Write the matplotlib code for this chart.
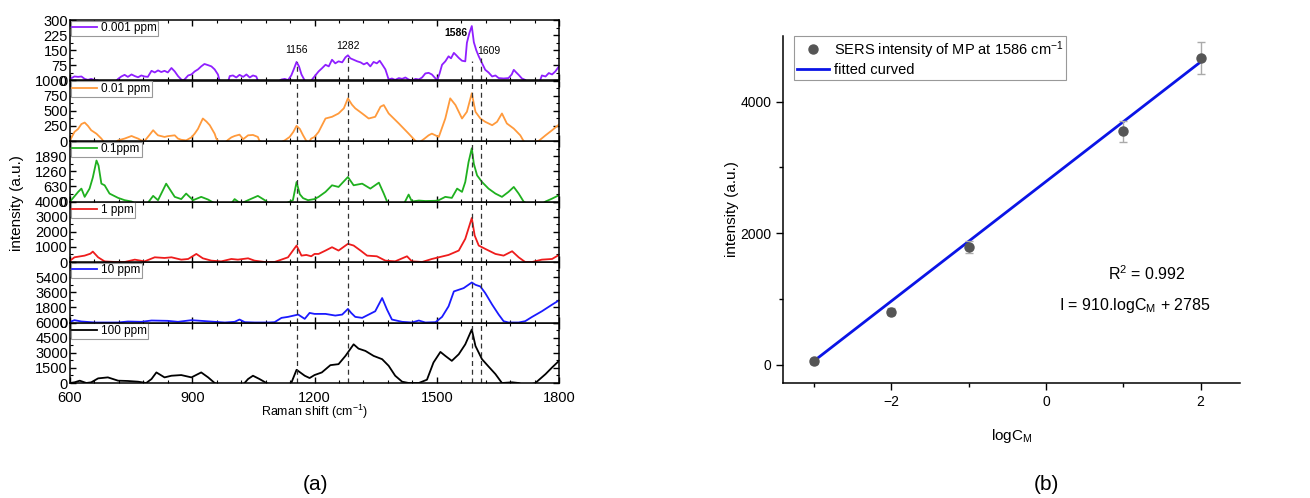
import matplotlib
matplotlib.use("Agg")
import matplotlib.pyplot as plt
from matplotlib.ticker import MultipleLocator, FixedLocator

plt.rcParams['font.family'] = ['Liberation Sans', 'DejaVu Sans']
plt.rcParams['mathtext.fontset'] = 'custom'
plt.rcParams['mathtext.rm'] = 'Liberation Sans'
plt.rcParams['mathtext.it'] = 'Liberation Sans:italic'

# ---- SERS spectra (Raman shift in cm-1, intensity in a.u.) ----
x_0001 = [600, 611, 620, 628, 636, 644, 652, 661, 669, 677, 700, 718, 726, 734, 742, 751, 759, 767,
          775, 783, 791, 800, 808, 816, 824, 832, 840, 849, 857, 865, 873, 877, 881, 890, 898, 906,
          914, 922, 930, 939, 947, 955, 963, 967, 975, 988, 992, 1000, 1008, 1016, 1025, 1033, 1041,
          1049, 1057, 1061, 1070, 1100, 1115, 1119, 1127, 1135, 1143, 1150, 1156, 1162, 1168, 1176,
          1184, 1194, 1200, 1210, 1218, 1227, 1235, 1243, 1251, 1259, 1268, 1276, 1282, 1288, 1296,
          1305, 1313, 1321, 1329, 1337, 1345, 1353, 1360, 1366, 1374, 1378, 1382, 1390, 1398, 1407,
          1415, 1423, 1431, 1439, 1448, 1456, 1464, 1472, 1480, 1488, 1497, 1501, 1507, 1513, 1521,
          1529, 1535, 1542, 1548, 1554, 1562, 1570, 1574, 1580, 1586, 1591, 1597, 1603, 1611, 1619,
          1627, 1636, 1644, 1652, 1664, 1676, 1684, 1689, 1695, 1701, 1709, 1717, 1726, 1750, 1758,
          1767, 1775, 1783, 1791, 1800]
y_0001 = [8, 20, 18, 20, 8, 3, 8, 2, 0, -20, -30, 8, 20, 28, 18, 30, 22, 16,
          25, 20, 18, 48, 40, 50, 42, 48, 40, 62, 45, 22, 5, 0, 5, 25, 30, 45,
          55, 70, 82, 76, 70, 55, 30, 0, -20, -5, 22, 25, 15, 28, 18, 30, 15,
          25, 20, 0, -25, -25, 0, 5, 8, 2, 25, 60, 92, 70, 30, 0,
          -20, 5, 20, 45, 60, 78, 70, 103, 85, 95, 90, 115, 125, 110, 103,
          95, 90, 80, 88, 70, 92, 85, 98, 80, 55, 30, 5, 10, 3, 12,
          8, 15, 5, 0, 8, 5, 15, 35, 38, 30, 10, 0, 35, 78, 95,
          120, 110, 137, 125, 112, 98, 95, 187, 235, 270, 190, 150, 120, 87, 53,
          40, 20, 25, 12, 10, 12, 30, 53, 40, 28, 10, 3, -20, -20, 25,
          20, 37, 30, 45, 70]

x_001 = [600, 611, 620, 628, 636, 644, 652, 665, 677, 685, 710, 718, 734, 751, 759, 767, 775, 783,
         795, 804, 812, 816, 832, 840, 857, 865, 873, 885, 898, 906, 914, 926, 935, 943, 955, 959,
         967, 980, 988, 996, 1004, 1016, 1025, 1037, 1049, 1061, 1065, 1075, 1115, 1127, 1139, 1148,
         1156, 1164, 1172, 1180, 1186, 1192, 1200, 1210, 1227, 1243, 1259, 1272, 1282, 1292, 1300,
         1317, 1333, 1349, 1362, 1370, 1382, 1407, 1431, 1448, 1456, 1470, 1480, 1488, 1505, 1521,
         1533, 1546, 1562, 1574, 1586, 1595, 1607, 1619, 1636, 1648, 1660, 1672, 1689, 1705, 1713,
         1720, 1750, 1767, 1783, 1800]
y_001 = [10, 150, 200, 280, 305, 250, 178, 120, 40, -30, -30, 10, 40, 83, 60, 40, 10, 0,
         100, 178, 120, 94, 67, 80, 94, 40, 20, 10, 60, 122, 200, 372, 320, 261, 120, 40,
         -30, -30, 20, 60, 83, 105, 30, 94, 100, 67, 0, -30, -30, 10, 67, 150,
         250, 200, 94, 0, -20, 40, 67, 150, 372, 400, 455, 540, 705, 600, 540,
         455, 372, 400, 567, 594, 455, 289, 122, 0, -30, 40, 94, 122, 67, 372,
         705, 594, 372, 483, 789, 483, 372, 317, 261, 317, 455, 290, 205, 94, 0,
         -30, 0, 94, 178, 272]

x_01 = [603, 620, 628, 636, 648, 656, 665, 670, 677, 685, 697, 718, 734, 751, 760, 790, 804, 816,
        836, 857, 873, 885, 902, 922, 939, 947, 955, 996, 1004, 1012, 1020, 1037, 1061, 1078, 1086,
        1130, 1147, 1156, 1164, 1172, 1184, 1200, 1210, 1227, 1243, 1259, 1282, 1296, 1317, 1337,
        1358, 1370, 1378, 1385, 1420, 1431, 1439, 1456, 1472, 1497, 1505, 1521, 1537, 1550, 1562,
        1570, 1578, 1586, 1591, 1599, 1611, 1627, 1644, 1660, 1676, 1689, 1701, 1713, 1720, 1760,
        1767, 1783, 1800]
y_01 = [55, 400, 537, 193, 537, 1000, 1707, 1500, 743, 675, 330, 151, 55, 0, -80, -80, 234, 55,
        743, 193, 100, 330, 55, 193, 80, 0, -80, -80, 100, 0, -80, 55, 234, 55, -50,
        -80, 55, 813, 300, 140, 55, 100, 193, 400, 675, 606, 1019, 675, 743, 537,
        785, 330, 0, -80, -80, 289, 0, 40, 20, 30, 55, 193, 150, 537, 400,
        813, 1639, 2217, 1570, 1088, 813, 537, 330, 193, 400, 606, 330, 0, -80, -80,
        0, 120, 262]

x_1 = [600, 611, 636, 650, 656, 669, 685, 710, 734, 759, 783, 808, 832, 849, 873, 890, 910, 926,
       947, 971, 996, 1012, 1037, 1053, 1078, 1102, 1135, 1156, 1168, 1180, 1192, 1200, 1210, 1227,
       1243, 1259, 1282, 1296, 1313, 1329, 1353, 1374, 1398, 1427, 1439, 1464, 1488, 1505, 1529,
       1554, 1570, 1586, 1593, 1603, 1619, 1644, 1664, 1685, 1701, 1717, 1734, 1758, 1783, 1800]
y_1 = [89, 311, 422, 550, 689, 311, 40, 0, 0, 156, 40, 311, 267, 311, 156, 200, 533, 244,
       89, 40, 200, 156, 244, 89, 0, 0, 311, 1089, 422, 467, 378, 533, 533, 756,
       978, 756, 1200, 1089, 756, 422, 378, 89, 44, 378, 44, 0, 200, 311, 467,
       756, 1533, 2911, 1756, 1089, 867, 533, 422, 711, 311, 0, 0, 156, 200, 467]

x_10 = [600, 611, 628, 661, 718, 742, 775, 800, 840, 865, 898, 922, 955, 980, 1004, 1016, 1029,
        1053, 1086, 1102, 1119, 1135, 1160, 1176, 1188, 1200, 1227, 1251, 1268, 1282, 1290, 1300,
        1317, 1333, 1349, 1366, 1378, 1390, 1415, 1439, 1456, 1472, 1497, 1513, 1529, 1542, 1554,
        1566, 1586, 1595, 1607, 1619, 1636, 1652, 1664, 1676, 1701, 1717, 1734, 1758, 1783, 1800]
y_10 = [80, 275, 120, 0, 0, 118, 80, 236, 197, 80, 275, 197, 80, 0, 80, 354, 40,
        0, 0, 40, 551, 669, 944, 433, 1141, 1023, 1023, 826, 944, 1613, 1141, 669,
        551, 944, 1338, 2911, 1534, 354, 80, 0, 236, 0, 40, 669, 1928, 3698, 3895,
        4092, 4761, 4485, 4289, 3502, 2125, 944, 157, 0, 0, 157, 669, 1338, 2125, 2636]

x_100 = [600, 611, 624, 640, 652, 669, 693, 718, 742, 767, 787, 800, 812, 832, 849, 873, 898, 922,
         939, 955, 965, 1025, 1037, 1049, 1065, 1082, 1090, 1135, 1143, 1156, 1176, 1188, 1200, 1218,
         1239, 1259, 1276, 1296, 1308, 1325, 1345, 1366, 1382, 1398, 1415, 1431, 1456, 1476, 1492,
         1509, 1521, 1537, 1554, 1570, 1586, 1595, 1611, 1627, 1644, 1660, 1685, 1701, 1710, 1730,
         1742, 1767, 1783, 1800]
y_100 = [0, 66, 230, 0, 66, 459, 557, 230, 200, 130, 0, 394, 1049, 557, 721, 787, 557, 1049,
         557, 0, -150, -150, 394, 721, 394, 0, -150, -150, 0, 1311, 721, 492, 787, 1049,
         1770, 1869, 2689, 3836, 3410, 3180, 2689, 2361, 1705, 721, 130, 0, 0, 328, 2033,
         3082, 2689, 2197, 2852, 3836, 5311, 3672, 2361, 1639, 885, 0, 66, 0, -150, -150,
         0, 885, 1541, 2197]

labels = ['0.001 ppm', '0.01 ppm', '0.1ppm', '1 ppm', '10 ppm', '100 ppm']
colors = ['#8f1fff', '#ff9a3c', '#1fb01f', '#ee1c1c', '#1a1aff', '#000000']
ytops = [300, 1000, 2520, 4000, 7200, 6000]
yticks = [[0, 75, 150, 225, 300], [0, 250, 500, 750, 1000], [0, 630, 1260, 1890],
          [0, 1000, 2000, 3000, 4000], [0, 1800, 3600, 5400], [0, 1500, 3000, 4500, 6000]]

# marked bands and how high the dashed line reaches in the top trace
peaks = [1156, 1282, 1586, 1609]
peak_tops = [92, 125, 95, 112]

# ---- calibration (panel b) ----
logC = [-3, -2, -1, 1, 2]
intensity = [50, 805, 1785, 3550, 4665]
intensity_err = [40, 50, 90, 160, 240]
slope, intercept = 910, 2785
r2 = 0.992


def stack_spectra(fig):
    """six stacked spectra sharing the Raman shift axis"""
    series = [(x_0001, y_0001), (x_001, y_001), (x_01, y_01),
              (x_1, y_1), (x_10, y_10), (x_100, y_100)]
    left, right = 70 / 1310, 559 / 1310
    top, bottom = 1 - 20 / 498, 1 - 383 / 498
    h = (top - bottom) / 6
    axes = []
    for i, (xs, ys) in enumerate(series):
        ax = fig.add_axes([left, top - (i + 1) * h, right - left, h])
        ax.plot(xs, ys, color=colors[i], lw=1.3, label=labels[i])
        ax.set_xlim(600, 1800)
        ax.set_ylim(0, ytops[i])
        ax.yaxis.set_major_locator(FixedLocator(yticks[i]))
        ax.yaxis.set_minor_locator(FixedLocator(
            [t + (yticks[i][1] - yticks[i][0]) / 2 for t in yticks[i]]))
        ax.xaxis.set_major_locator(MultipleLocator(300))
        ax.xaxis.set_minor_locator(MultipleLocator(60))
        ax.tick_params(which='both', direction='in', top=True, right=True)
        ax.tick_params(axis='y', labelsize=10.5, pad=1.5)
        ax.tick_params(axis='x', labelsize=10.5, pad=6)
        ax.tick_params(which='major', length=4, width=1)
        ax.tick_params(which='minor', length=2.5, width=0.8)
        for s in ax.spines.values():
            s.set_linewidth(1.1)
        if i < 5:
            ax.tick_params(labelbottom=False)
        leg = ax.legend(loc='upper left', fontsize=8.5, handlelength=2.1, handletextpad=0.3,
                        borderpad=0.15, borderaxespad=0.05, fancybox=False, framealpha=1)
        leg.get_frame().set_edgecolor('#999999')
        leg.get_frame().set_linewidth(0.8)
        ax.set_zorder(10 - i)
        axes.append(ax)

    # dashed guides through all traces
    for i, ax in enumerate(axes):
        for p, pt in zip(peaks, peak_tops):
            if i == 0:
                ax.vlines(p, 0, pt, colors='#333333', linestyles=(0, (4, 3)), lw=0.9)
            else:
                ax.axvline(p, color='#333333', ls=(0, (4, 3)), lw=0.9)

    top_ax = axes[0]
    top_ax.text(1156, 150, '1156', fontsize=7.5, ha='center', va='center')
    top_ax.text(1282, 172, '1282', fontsize=7.5, ha='center', va='center')
    top_ax.text(1575, 235, '1586', fontsize=7.5, ha='right', va='center', fontweight='bold')
    top_ax.text(1600, 145, '1609', fontsize=7.5, ha='left', va='center')
    axes[-1].set_xticks([600, 900, 1200, 1500, 1800])

    fig.text(17 / 1310, 1 - 203 / 498, 'intensity (a.u.)', rotation=90,
             ha='center', va='center', fontsize=11)
    fig.text(314 / 1310, 1 - 412 / 498, 'Raman shift (cm$\\mathregular{^{-1}}$)',
             ha='center', va='center', fontsize=9)


def calibration(fig):
    """SERS intensity versus log concentration with linear fit"""
    ax = fig.add_axes([783 / 1310, 1 - 383 / 498, (1240 - 783) / 1310, (383 - 36) / 498])
    ax.errorbar(logC, intensity, yerr=intensity_err, fmt='none', ecolor='#aaaaaa',
                elinewidth=1, capsize=3, zorder=3)
    pts, = ax.plot(logC, intensity, 'o', color='#555555', ms=6.5, zorder=4,
                   label='SERS intensity of MP at 1586 cm$\\mathregular{^{-1}}$')
    fx = [logC[0], logC[-1]]
    fit, = ax.plot(fx, [slope * v + intercept for v in fx], color='#0a14e6', lw=2,
                   label='fitted curved', zorder=2)
    ax.set_xlim(-3.4, 2.51)
    ax.set_ylim(-280, 5000)
    ax.set_xticks([-2, 0, 2])
    ax.set_xticklabels(['\u22122', '0', '2'])
    ax.xaxis.set_minor_locator(FixedLocator([-3, -1, 1]))
    ax.set_yticks([0, 2000, 4000])
    ax.yaxis.set_minor_locator(FixedLocator([1000, 3000]))
    ax.spines['top'].set_visible(False)
    ax.spines['right'].set_visible(False)
    for s in ('left', 'bottom'):
        ax.spines[s].set_linewidth(1.1)
    ax.tick_params(which='both', direction='out', labelsize=10)
    ax.tick_params(which='major', length=5, width=1)
    ax.tick_params(which='minor', length=3, width=1)
    ax.set_ylabel('intensity (a.u.)', fontsize=11, labelpad=1)
    ax.set_xlabel('logC$\\mathregular{_M}$', fontsize=11, labelpad=13)
    ax.text(1.3, 1380, 'R$\\mathregular{^2}$ = %.3f' % r2, fontsize=11.5,
            ha='center', va='center')
    ax.text(1.15, 900, 'I = %d.logC$\\mathregular{_M}$ + %d' % (slope, intercept),
            fontsize=11.5, ha='center', va='center')
    leg = ax.legend(handles=[pts, fit], loc='upper left', bbox_to_anchor=(0.025, 1.0),
                    fontsize=10.5, handlelength=2.2, handletextpad=0.3, borderpad=0.2,
                    borderaxespad=0, fancybox=False, framealpha=1, labelspacing=0.2)
    leg.get_frame().set_edgecolor('#999999')
    leg.get_frame().set_linewidth(0.8)


def main():
    fig = plt.figure(figsize=(13.1, 4.98), dpi=100)
    stack_spectra(fig)
    calibration(fig)
    fig.text(315 / 1310, 1 - 484 / 498, '(a)', ha='center', va='center', fontsize=15)
    fig.text(1046 / 1310, 1 - 484 / 498, '(b)', ha='center', va='center', fontsize=15)
    fig.savefig('out.png', dpi=100)


if __name__ == "__main__":
    main()
